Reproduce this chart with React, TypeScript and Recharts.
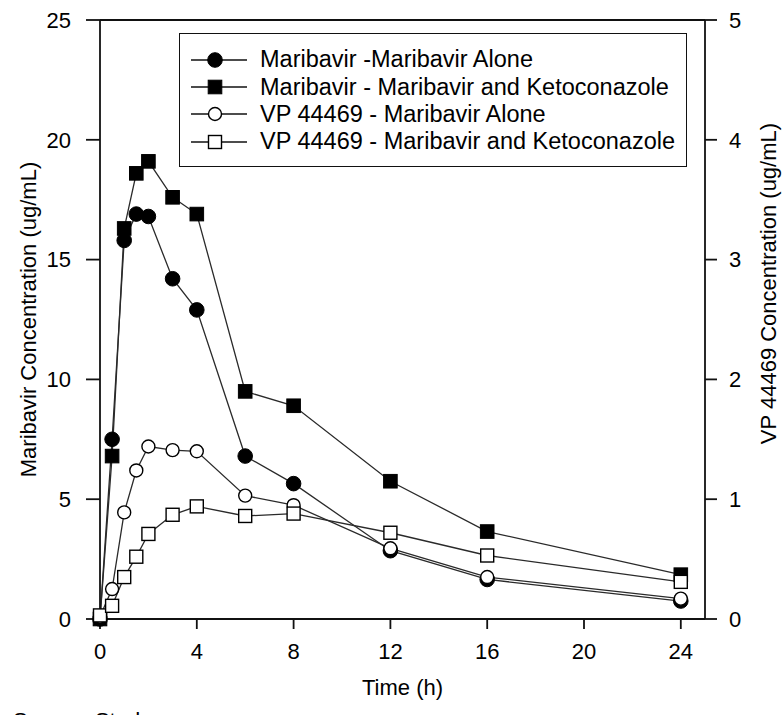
import { ComposedChart, Line, XAxis, YAxis, ReferenceLine, Legend } from "recharts"

const FONT = "'Liberation Sans', Arial, sans-serif"
const INK = "#111"

// sampling times (h)
const times = [0, 0.5, 1, 1.5, 2, 3, 4, 6, 8, 12, 16, 24]
// left axis, ug/mL
const maribavirAlone = [0, 7.5, 15.8, 16.9, 16.8, 14.2, 12.9, 6.8, 5.65, 2.85, 1.65, 0.75]
const maribavirKeto = [0, 6.8, 16.3, 18.6, 19.1, 17.6, 16.9, 9.5, 8.9, 5.75, 3.65, 1.85]
// right axis, ug/mL
const vpAlone = [0.02, 0.25, 0.89, 1.24, 1.44, 1.41, 1.4, 1.03, 0.95, 0.59, 0.35, 0.17]
const vpKeto = [0.03, 0.11, 0.35, 0.52, 0.71, 0.87, 0.94, 0.86, 0.88, 0.72, 0.53, 0.31]

const xTicks = [0, 4, 8, 12, 16, 20, 24]
const leftTicks = [0, 5, 10, 15, 20, 25]
const rightTicks = [0, 1, 2, 3, 4, 5]

const seriesNames = [
  "Maribavir -Maribavir Alone",
  "Maribavir - Maribavir and Ketoconazole",
  "VP 44469 - Maribavir Alone",
  "VP 44469 - Maribavir and Ketoconazole",
]

const data = times.map((t, i) => ({
  t,
  ma: maribavirAlone[i],
  mk: maribavirKeto[i],
  va: vpAlone[i],
  vk: vpKeto[i],
}))

type Kind = "fc" | "fs" | "oc" | "os"
const kinds: Kind[] = ["fc", "fs", "oc", "os"]

function marker(kind: Kind, cx: number, cy: number, key?: string | number) {
  if (kind === "fc") return <circle key={key} cx={cx} cy={cy} r={7.3} fill="#000" stroke="#000" strokeWidth={1} />
  if (kind === "fs") return <rect key={key} x={cx - 6.8} y={cy - 6.8} width={13.6} height={13.6} fill="#000" stroke="#000" strokeWidth={1} />
  if (kind === "oc") return <circle key={key} cx={cx} cy={cy} r={6.5} fill="#fff" stroke="#000" strokeWidth={1.4} />
  return <rect key={key} x={cx - 6.5} y={cy - 6.5} width={13} height={13} fill="#fff" stroke="#000" strokeWidth={1.4} />
}

const dotFor = (kind: Kind) => (p: any) => marker(kind, p.cx, p.cy, `${kind}-${p.index}`)

function LegendBox() {
  return (
    <div style={{
      width: 508, height: 134, boxSizing: "border-box", border: `1.6px solid ${INK}`,
      padding: "12px 0 0 11px", background: "#fff", fontFamily: FONT, fontSize: 23.5, color: "#000",
    }}>
      {seriesNames.map((name, i) => (
        <div key={name} style={{ display: "flex", alignItems: "center", height: 27.4 }}>
          <svg width={56} height={20} style={{ flex: "none" }}>
            <line x1={0} x2={56} y1={10} y2={10} stroke={INK} strokeWidth={1.5} />
            {marker(kinds[i], 24, 10)}
          </svg>
          <span style={{ marginLeft: 13, whiteSpace: "nowrap" }}>{name}</span>
        </div>
      ))}
    </div>
  )
}

const tickStyle = { fontSize: 22, fill: "#000", fontFamily: FONT }
const titleStyle = { fontSize: 22, fill: "#000", fontFamily: FONT }

export default function App() {
  return (
    <div style={{ position: "absolute", left: 0, top: 0, width: 783, height: 715, background: "#fff", overflow: "hidden" }}>
      <ComposedChart width={783} height={715} data={data} margin={{ top: 20, right: 0, bottom: 0, left: 0 }}>
        <XAxis
          dataKey="t" type="number" domain={[0, 25]} ticks={xTicks} interval={0}
          height={96} tickSize={10} tickMargin={14}
          stroke={INK} strokeWidth={1.8} tick={tickStyle}
          label={{ value: "Time (h)", position: "insideBottom", offset: 20, style: titleStyle }}
        />
        <YAxis
          yAxisId="l" domain={[0, 25]} ticks={leftTicks} interval={0}
          width={100} tickSize={14} tickMargin={15}
          stroke={INK} strokeWidth={1.8} tick={tickStyle}
          label={{ value: "Maribavir Concentration (ug/mL)", angle: -90, position: "center", dx: -22, style: { ...titleStyle, textAnchor: "middle" } }}
        />
        <YAxis
          yAxisId="r" orientation="right" domain={[0, 5]} ticks={rightTicks} interval={0}
          width={78} tickSize={12} tickMargin={12}
          stroke={INK} strokeWidth={1.8} tick={tickStyle}
          label={{ value: "VP 44469 Concentration (ug/mL)", angle: -90, position: "center", dx: 24, dy: -36, style: { ...titleStyle, textAnchor: "middle" } }}
        />
        <ReferenceLine yAxisId="l" y={25} stroke={INK} strokeWidth={1.8} />
        <Legend
          layout="horizontal" verticalAlign="middle" align="center"
          content={() => <LegendBox />}
          wrapperStyle={{ left: 179, top: 33, width: 508, height: 134 }}
        />
        <Line yAxisId="l" dataKey="ma" stroke="#2a2a2a" strokeWidth={1.3} dot={dotFor("fc")} activeDot={false} isAnimationActive={false} />
        <Line yAxisId="l" dataKey="mk" stroke="#2a2a2a" strokeWidth={1.3} dot={dotFor("fs")} activeDot={false} isAnimationActive={false} />
        <Line yAxisId="r" dataKey="va" stroke="#2a2a2a" strokeWidth={1.3} dot={dotFor("oc")} activeDot={false} isAnimationActive={false} />
        <Line yAxisId="r" dataKey="vk" stroke="#2a2a2a" strokeWidth={1.3} dot={dotFor("os")} activeDot={false} isAnimationActive={false} />
      </ComposedChart>
      <div style={{ position: "absolute", left: 13, top: 708, fontFamily: FONT, fontSize: 22, color: "#000", whiteSpace: "nowrap" }}>
        Source: Study
      </div>
    </div>
  )
}
